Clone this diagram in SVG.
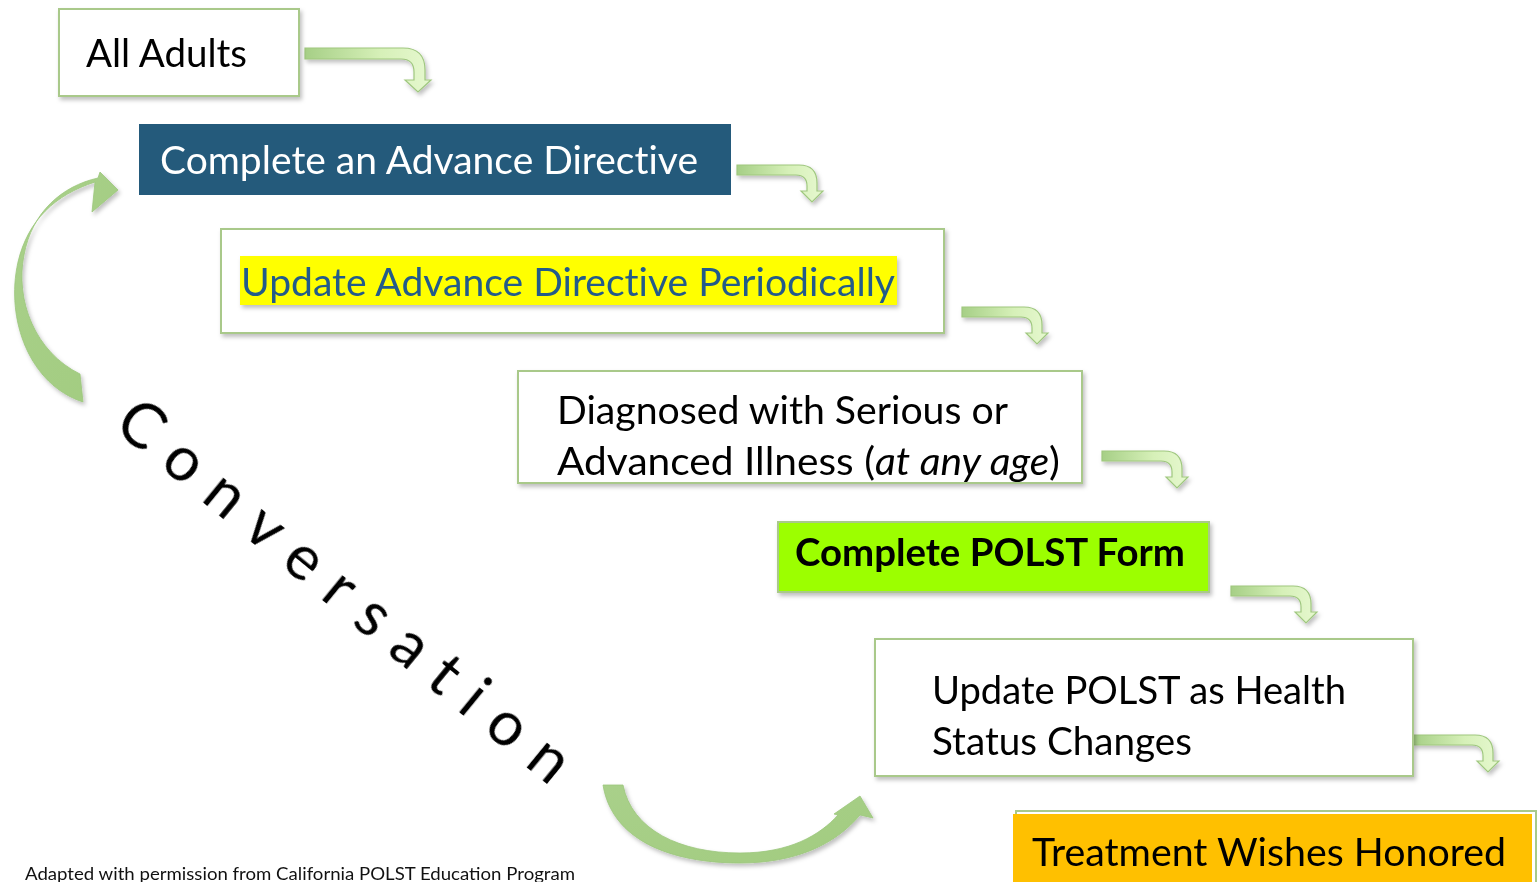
<svg xmlns="http://www.w3.org/2000/svg" width="1537" height="882" viewBox="0 0 1537 882">
<defs>
<linearGradient id="barg" x1="0" y1="0" x2="1" y2="0">
<stop offset="0" stop-color="#a6cf86"/>
<stop offset="0.6" stop-color="#d6f0b8"/>
<stop offset="1" stop-color="#e6f8cf"/>
</linearGradient>
<linearGradient id="bigg" x1="0" y1="0" x2="1" y2="1">
<stop offset="0" stop-color="#a9d08a"/>
<stop offset="1" stop-color="#a2cc80"/>
</linearGradient>
<filter id="sh" x="-10%" y="-10%" width="130%" height="140%">
<feDropShadow dx="2" dy="3" stdDeviation="2" flood-color="#000" flood-opacity="0.25"/>
</filter>
<path id="bent" d="M0,0 H62 Q80,0 80,18 V26 H86 L75,37 L64,26 H70 V21 Q70,10 59,10 H0 Z"/>
</defs>
<style>
.ob{fill:#fff;stroke:#a9c98a;stroke-width:2}
.t{font-family:Lato,"Open Sans","Liberation Sans",sans-serif;font-size:38px;font-variant-ligatures:none}
.arr{fill:url(#barg);stroke:#9fc77f;stroke-width:1.2}
.big{fill:url(#bigg);stroke:#9cc67c;stroke-width:0.8}
</style>

<g id="connectors" filter="url(#sh)">
<path class="arr" d="M305,48 H403 Q425,48 425,70 V80 H431 L418,92 L405,80 H414 V72 Q414,59 401,59 H305 Z"/>
<use href="#bent" class="arr" x="737" y="165"/>
<use href="#bent" class="arr" x="962" y="307"/>
<use href="#bent" class="arr" x="1102" y="451"/>
<use href="#bent" class="arr" x="1231" y="586"/>
<use href="#bent" class="arr" x="1413" y="735"/>
<path class="big" d="M83,402 C30,385 5,320 18,262 C28,220 55,195 95,182 L92,212 L118,190 L100,172 L98,178 C62,186 32,212 24,255 C15,300 35,352 80,374 Z"/>
<path class="big" d="M603,785 H623 C632,830 680,853 740,853 C790,853 820,835 838,815 L834,814 L860,796 L873,818 L860,815 C835,845 795,863 740,863 C670,863 612,840 603,785 Z"/>
</g>

<g id="node-all-adults">
<rect class="ob" x="59" y="9" width="240" height="87" filter="url(#sh)"/>
<text class="t" x="86" y="67" textLength="161" lengthAdjust="spacingAndGlyphs">All Adults</text>
</g>

<g id="node-complete-ad">
<rect x="139" y="124" width="592" height="71" fill="#245a7b"/>
<text class="t" x="160" y="174" fill="#fff" textLength="538" lengthAdjust="spacingAndGlyphs">Complete an Advance Directive</text>
</g>

<g id="node-update-ad">
<rect class="ob" x="221" y="229" width="723" height="104" filter="url(#sh)"/>
<rect x="240" y="256" width="657" height="49" fill="#ffff00" filter="url(#sh)"/>
<text class="t" x="241" y="296" fill="#235b8a" textLength="654" lengthAdjust="spacingAndGlyphs">Update Advance Directive Periodically</text>
</g>

<g id="node-diagnosed">
<rect class="ob" x="518" y="371" width="564" height="112" filter="url(#sh)"/>
<text class="t" x="557" y="424" textLength="451" lengthAdjust="spacingAndGlyphs">Diagnosed with Serious or</text>
<text class="t" x="557" y="475" textLength="503" lengthAdjust="spacingAndGlyphs">Advanced Illness (<tspan font-style="italic">at any age</tspan>)</text>
</g>

<g id="node-complete-polst">
<rect x="778" y="522" width="431" height="70" fill="#9cff00" stroke="#a9c98a" stroke-width="2" filter="url(#sh)"/>
<text class="t" x="795" y="566" font-weight="bold" textLength="390" lengthAdjust="spacingAndGlyphs">Complete POLST Form</text>
</g>

<g id="node-update-polst">
<rect class="ob" x="875" y="639" width="538" height="137" filter="url(#sh)"/>
<text class="t" x="932" y="704" textLength="414" lengthAdjust="spacingAndGlyphs">Update POLST as Health</text>
<text class="t" x="932" y="755" textLength="260" lengthAdjust="spacingAndGlyphs">Status Changes</text>
</g>

<g id="node-treatment">
<rect x="1016" y="811" width="520" height="80" fill="#fff" stroke="#a9c98a" stroke-width="2"/>
<rect x="1013" y="814" width="519" height="80" fill="#ffc000"/>
<text class="t" x="1032" y="866" textLength="474" lengthAdjust="spacingAndGlyphs">Treatment Wishes Honored</text>
</g>

<g id="conversation">
<text transform="translate(112,428) rotate(39.3)" font-family="Lato,'Open Sans','Liberation Sans',sans-serif" font-size="62" style="font-variant-ligatures:none" textLength="566" lengthAdjust="spacing">Conversation</text>
</g>

<text x="25" y="880" font-family="Lato,'Liberation Sans',sans-serif" font-size="17" fill="#111" textLength="550" lengthAdjust="spacingAndGlyphs">Adapted with permission from California POLST Education Program</text>
</svg>
